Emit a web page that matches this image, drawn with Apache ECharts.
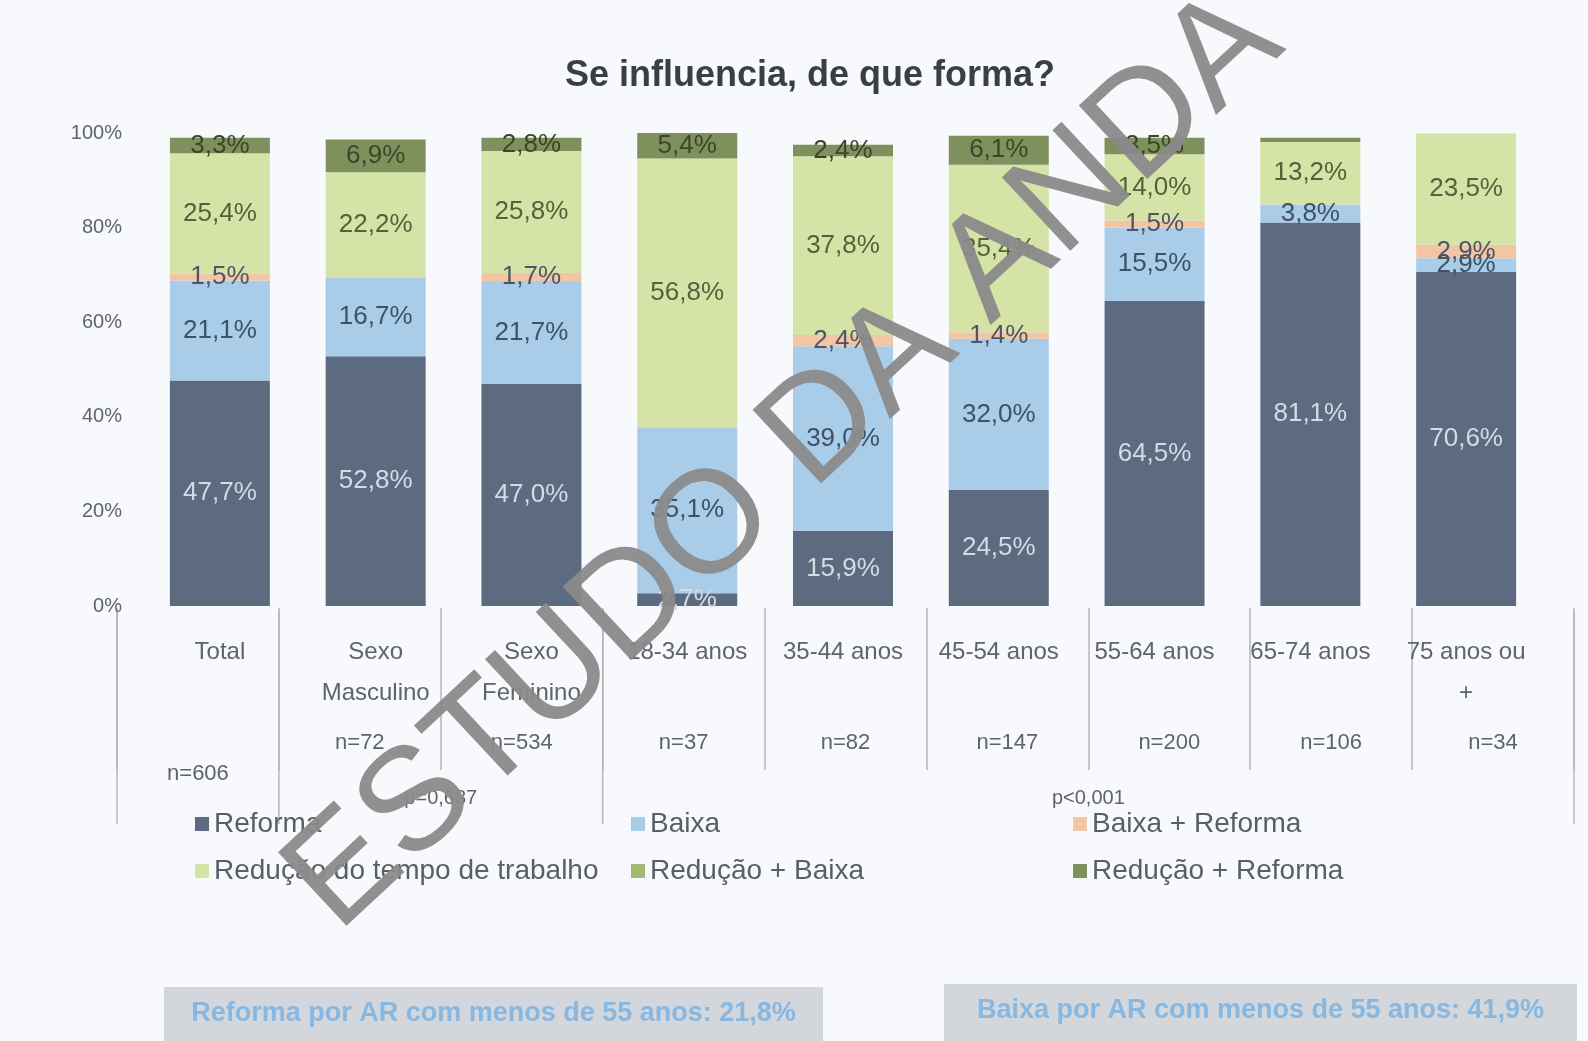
<!DOCTYPE html>
<html>
<head>
<meta charset="utf-8">
<script src="https://cdn.jsdelivr.net/npm/echarts@6/dist/echarts.min.js"></script>
<style>
  html, body { margin: 0; padding: 0; background: #f8f9fc; }
  #main { width: 1588px; height: 1041px; }
</style>
</head>
<body>
<div id="main"></div>
<script>
  // categorias e amostras
  var categories = ['Total', 'Sexo\nMasculino', 'Sexo\nFeminino', '18-34 anos', '35-44 anos',
    '45-54 anos', '55-64 anos', '65-74 anos', '75 anos ou\n+']
  var nLabels = ['n=606', 'n=72', 'n=534', 'n=37', 'n=82', 'n=147', 'n=200', 'n=106', 'n=34']
  var yTicks = [0, 20, 40, 60, 80, 100]

  // valores (%) de baixo para cima
  var reforma = [47.7, 52.8, 47.0, 2.7, 15.9, 24.5, 64.5, 81.1, 70.6]
  var baixa = [21.1, 16.7, 21.7, 35.1, 39.0, 32.0, 15.5, 3.8, 2.9]
  var baixaReforma = [1.5, 0, 1.7, 0, 2.4, 1.4, 1.5, 0, 2.9]
  var reducao = [25.4, 22.2, 25.8, 56.8, 37.8, 35.4, 14.0, 13.2, 23.5]
  var reducaoBaixa = [0, 0, 0, 0, 0, 0, 0, 0, 0]
  var reducaoReforma = [3.3, 6.9, 2.8, 5.4, 2.4, 6.1, 3.5, 0.9, 0]

  // grupos do eixo (inicio, fim) e p-values
  var groups = [[0, 1], [1, 3], [3, 9]]
  var pLabels = ['', 'p=0,687', 'p<0,001']
  var notes = ['Reforma por AR com menos de 55 anos: 21,8%', 'Baixa por AR com menos de 55 anos: 41,9%']

  var FONT = 'Liberation Sans'
  var chart = echarts.init(document.getElementById('main'))

  function fmt(p) {
    if (!p.value || p.value < 1) return ''
    return p.value.toFixed(1).replace('.', ',') + '%'
  }

  function bar(name, data, color, labelColor) {
    return {
      name: name,
      type: 'bar',
      stack: 'total',
      data: data,
      barWidth: 100,
      itemStyle: { color: color },
      label: {
        show: true,
        position: 'inside',
        formatter: fmt,
        color: labelColor,
        fontFamily: FONT,
        fontSize: 26
      }
    }
  }

  var option = {
    backgroundColor: '#f8f9fc',
    animation: false,
    title: {
      text: 'Se influencia, de que forma?',
      left: 560,
      top: 53,
      textStyle: { fontFamily: FONT, fontSize: 36, fontWeight: 'bold', color: '#3a3f47' }
    },
    legend: [
      { data: ['Reforma', 'Redução do tempo de trabalho'], left: 190, top: 805 },
      { data: ['Baixa', 'Redução + Baixa'], left: 626, top: 805 },
      { data: ['Baixa + Reforma', 'Redução + Reforma'], left: 1068, top: 805 }
    ].map(function (l) {
      return Object.assign(l, {
        orient: 'vertical',
        icon: 'rect',
        itemWidth: 14,
        itemHeight: 14,
        itemGap: 19,
        textStyle: { fontFamily: FONT, fontSize: 28, color: '#5a5f66' }
      })
    }),
    grid: [
      { left: 142, right: 44, top: 133, bottom: 435 },
      { left: 117, right: 14, top: 606, height: 2 }
    ],
    xAxis: [{
      type: 'category',
      data: categories,
      axisLine: { show: false },
      axisTick: { show: false },
      axisLabel: { margin: 26, fontFamily: FONT, fontSize: 24, lineHeight: 41, color: '#5f646b', interval: 0 }
    }, {
      type: 'category',
      gridIndex: 1,
      data: nLabels.map(function (n, i) {
        return i === 0 ? { value: n, textStyle: { padding: [31, 0, 0, 0] } } : n
      }),
      axisLine: { show: false },
      axisTick: { show: true, length: 162, lineStyle: { color: '#b4b7bc', width: 1.5 } },
      axisLabel: { margin: 124, fontFamily: FONT, fontSize: 22, color: '#5f646b', interval: 0 }
    }],
    yAxis: [{
      type: 'value',
      min: yTicks[0],
      max: yTicks[yTicks.length - 1],
      interval: 20,
      axisLine: { show: false },
      axisTick: { show: false },
      splitLine: { show: false },
      axisLabel: { formatter: '{value}%', margin: 20, fontFamily: FONT, fontSize: 20, color: '#5f646b' }
    }, {
      type: 'value',
      gridIndex: 1,
      show: false
    }],
    series: [
      bar('Reforma', reforma, '#5d6b80', '#d3dbe5'),
      bar('Baixa', baixa, '#a9cce8', '#3e5166'),
      bar('Baixa + Reforma', baixaReforma, '#f2c6a4', '#4f5566'),
      bar('Redução do tempo de trabalho', reducao, '#d5e3a6', '#56603c'),
      bar('Redução + Baixa', reducaoBaixa, '#a3b872', '#3f4a2c'),
      bar('Redução + Reforma', reducaoReforma, '#7e915d', '#3b4529')
    ]
  }

  chart.setOption(option)

  // linhas separadoras dos grupos e p-values, na escala do segundo eixo
  var c0 = chart.convertToPixel({ xAxisIndex: 1 }, nLabels[0])
  var c1 = chart.convertToPixel({ xAxisIndex: 1 }, nLabels[1])
  var band = c1 - c0
  function boundary(k) { return c0 + (k - 0.5) * band }

  var graphic = []
  var bounds = [0, 1, 3, 9]
  bounds.forEach(function (k) {
    var x = boundary(k)
    graphic.push({
      type: 'line',
      shape: { x1: x, y1: 610, x2: x, y2: 824 },
      style: { stroke: '#b4b7bc', lineWidth: 1.5 }
    })
  })
  groups.forEach(function (g, i) {
    if (!pLabels[i]) return
    graphic.push({
      type: 'text',
      x: (boundary(g[0]) + boundary(g[1])) / 2,
      y: 798,
      style: {
        text: pLabels[i], fontFamily: FONT, fontSize: 20, fill: '#5f646b',
        align: 'center', verticalAlign: 'middle'
      }
    })
  })

  // caixas de nota em baixo
  var boxes = [[164, 987, 659], [944, 984, 633]]
  boxes.forEach(function (b, i) {
    graphic.push({
      type: 'rect',
      shape: { x: b[0], y: b[1], width: b[2], height: 70 },
      style: { fill: '#d3d6db' }
    })
    graphic.push({
      type: 'text',
      x: b[0] + b[2] / 2,
      y: b[1] + 27,
      style: {
        text: notes[i], fontFamily: FONT, fontSize: 27, fontWeight: 'bold', fill: '#86b8e2',
        align: 'center', verticalAlign: 'middle'
      }
    })
  })

  // marca de agua
  graphic.push({
    type: 'text',
    x: 360,
    y: 958,
    rotation: 43 * Math.PI / 180,
    z: 100,
    style: {
      text: 'ESTUDO DA ANDA',
      fontFamily: FONT,
      fontSize: 146,
      fill: '#8a8a8a',
      opacity: 0.95,
      align: 'left',
      verticalAlign: 'bottom'
    }
  })

  chart.setOption({ graphic: graphic })
</script>
</body>
</html>
